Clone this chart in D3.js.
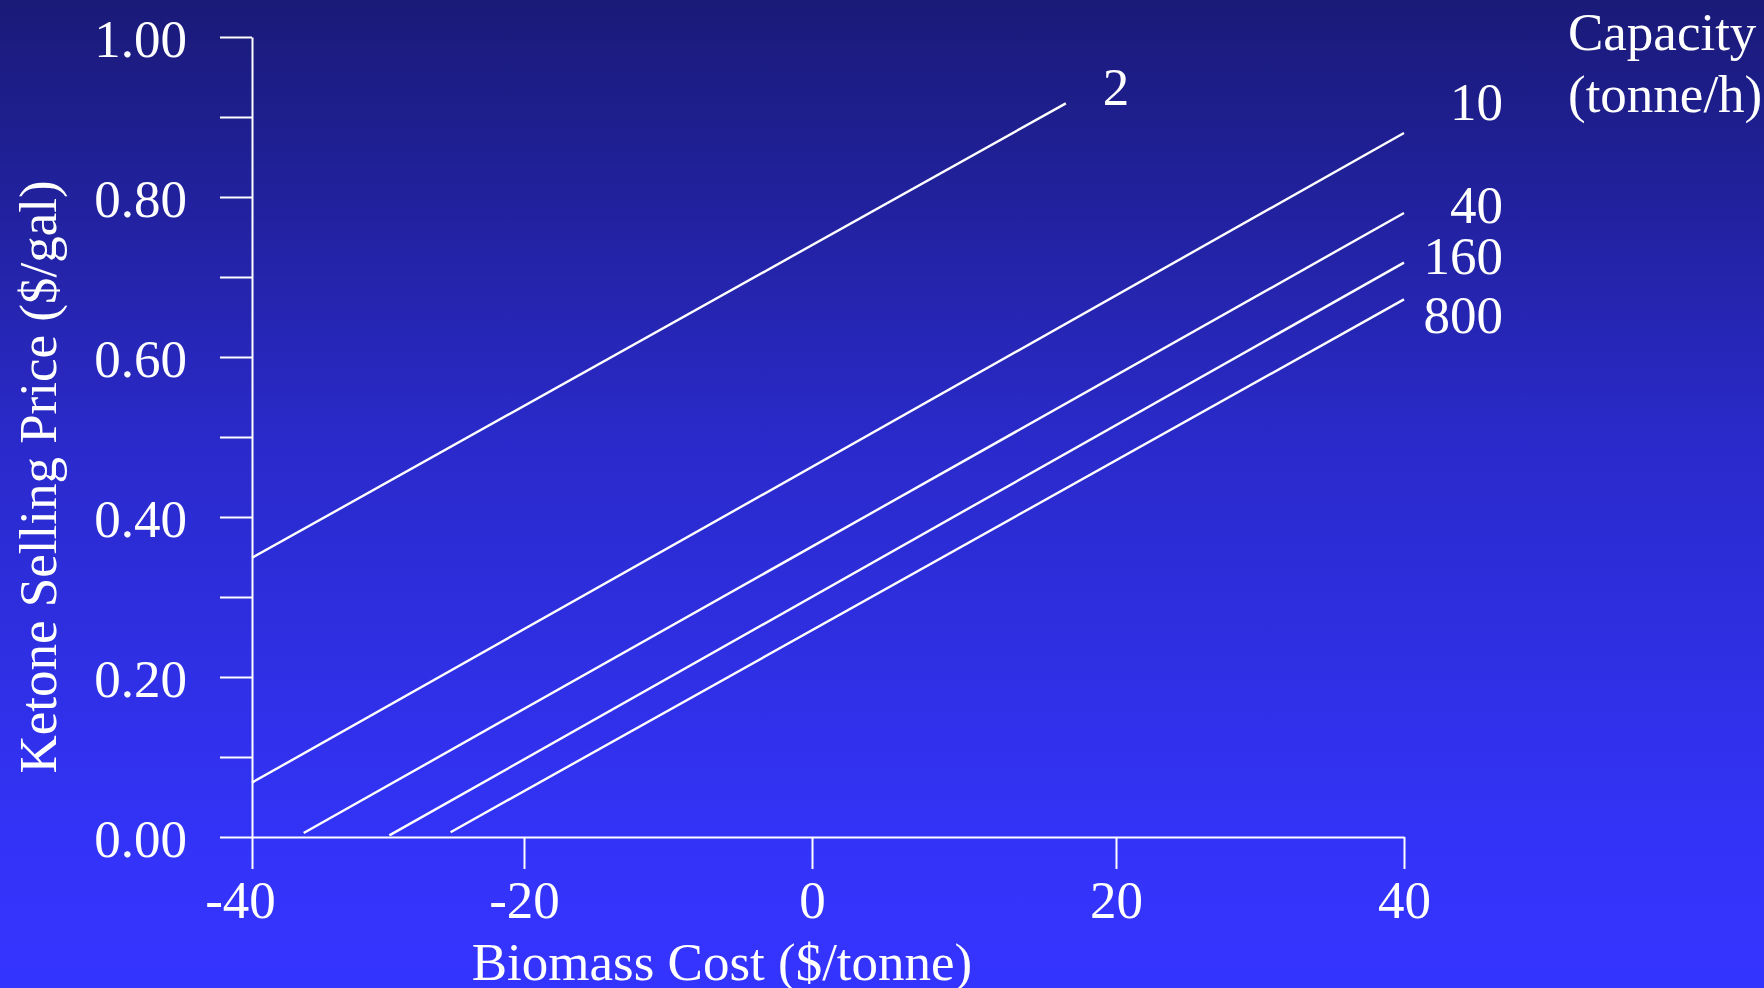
<!DOCTYPE html>
<html>
<head>
<meta charset="utf-8">
<script src="https://cdn.jsdelivr.net/npm/d3@7"></script>
<style>
  html, body { margin: 0; padding: 0; background: #2222aa; }
  svg { display: block; }
  text { font-family: "Liberation Serif", "Times New Roman", serif; fill: #ffffff; }
</style>
</head>
<body>
<svg id="chart" width="1764" height="988"></svg>
<script>
// Plant capacities (tonne/h), one line per capacity
const capacities = ["2", "10", "40", "160", "800"];
// Biomass cost ($/tonne) at the start and end of each line
const costStart = [-40, -40, -36.2, -29.9, -25.4];
const costEnd   = [16.7, 40, 40, 40, 40];
// Ketone selling price ($/gal) at the start and end of each line
const priceStart = [0.349, 0.068, 0.005, 0.002, 0.006];
const priceEnd   = [0.917, 0.880, 0.780, 0.718, 0.672];

// Axis ticks
const xTicks = [-40, -20, 0, 20, 40];
const yTicks = [0, 0.1, 0.2, 0.3, 0.4, 0.5, 0.6, 0.7, 0.8, 0.9, 1.0];
const yLabelled = [0, 0.2, 0.4, 0.6, 0.8, 1.0];

const W = 1764, H = 988;
const svg = d3.select("#chart");

// Background: navy at the top fading to bright blue
const defs = svg.append("defs");
const grad = defs.append("linearGradient")
  .attr("id", "bg").attr("x1", 0).attr("y1", 0).attr("x2", 0).attr("y2", 1);
grad.append("stop").attr("offset", "0%").attr("stop-color", "#1a1a78");
grad.append("stop").attr("offset", "45%").attr("stop-color", "#2a2acb");
grad.append("stop").attr("offset", "85%").attr("stop-color", "#3333f8");
grad.append("stop").attr("offset", "100%").attr("stop-color", "#3434ff");
svg.append("rect").attr("width", W).attr("height", H).attr("fill", "url(#bg)");

// Scales (the cost axis has uneven spacing between its ticks)
const x = d3.scaleLinear().domain(xTicks).range([252, 524, 812, 1116, 1404]);
const y = d3.scaleLinear().domain([0, 1]).range([837, 37]);

const fontSize = 53;

// Y axis
const yAxis = svg.append("g")
  .attr("transform", `translate(${x(-40)},0)`)
  .call(d3.axisLeft(y)
    .tickValues(yTicks)
    .tickSize(32)
    .tickSizeOuter(0)
    .tickPadding(33)
    .tickFormat(d => yLabelled.some(v => Math.abs(v - d) < 1e-9) ? d3.format(".2f")(d) : ""));

// X axis
const xAxis = svg.append("g")
  .attr("transform", `translate(0,${y(0)})`)
  .call(d3.axisBottom(x)
    .tickValues(xTicks)
    .tickSize(32)
    .tickSizeOuter(0)
    .tickPadding(11)
    .tickFormat(d => d3.format("d")(d).replace("−", "-")));

[xAxis, yAxis].forEach(g => {
  g.select(".domain").attr("stroke", "#ffffff").attr("stroke-width", 2);
  g.selectAll(".tick line").attr("stroke", "#ffffff").attr("stroke-width", 2);
  g.selectAll(".tick text")
    .attr("fill", "#ffffff")
    .style("font-family", '"Liberation Serif", "Times New Roman", serif')
    .style("font-size", fontSize + "px");
});
yAxis.selectAll(".tick text").attr("dy", "0.37em");
// the leftmost cost label sits a little left of its tick
xAxis.selectAll(".tick text").filter(d => d === -40).attr("dx", -12);

// Axis titles
svg.append("text")
  .attr("x", x(0) - 90)
  .attr("y", 980)
  .attr("text-anchor", "middle")
  .style("font-size", fontSize + "px")
  .text("Biomass Cost ($/tonne)");

svg.append("text")
  .attr("transform", `translate(56,${y(0.45)}) rotate(-90)`)
  .attr("text-anchor", "middle")
  .style("font-size", fontSize + "px")
  .text("Ketone Selling Price ($/gal)");

// Lines
const series = capacities.map((c, i) => ({
  name: c,
  points: [[costStart[i], priceStart[i]], [costEnd[i], priceEnd[i]]]
}));

const line = d3.line().x(d => x(d[0])).y(d => y(d[1]));

svg.append("g")
  .selectAll("path")
  .data(series)
  .join("path")
  .attr("d", d => line(d.points))
  .attr("fill", "none")
  .attr("stroke", "#ffffff")
  .attr("stroke-width", 2.4);

// Capacity labels next to each line end
const labelLayout = [
  { anchor: "start", dx: 37, dy: 2 },
  { anchor: "end", dx: 99, dy: -13 },
  { anchor: "end", dx: 99, dy: 10 },
  { anchor: "end", dx: 99, dy: 11 },
  { anchor: "end", dx: 99, dy: 34 }
];

svg.append("g")
  .selectAll("text")
  .data(series)
  .join("text")
  .attr("x", (d, i) => (labelLayout[i].anchor === "end" ? x(40) : x(d.points[1][0])) + labelLayout[i].dx)
  .attr("y", (d, i) => y(d.points[1][1]) + labelLayout[i].dy)
  .attr("text-anchor", (d, i) => labelLayout[i].anchor)
  .style("font-size", fontSize + "px")
  .text(d => d.name);

// Legend title
const legend = svg.append("text")
  .attr("x", 1568)
  .attr("y", 50)
  .style("font-size", fontSize + "px");
legend.append("tspan").attr("x", 1568).attr("y", 50).text("Capacity");
legend.append("tspan").attr("x", 1568).attr("y", 112).text("(tonne/h)");
</script>
</body>
</html>
